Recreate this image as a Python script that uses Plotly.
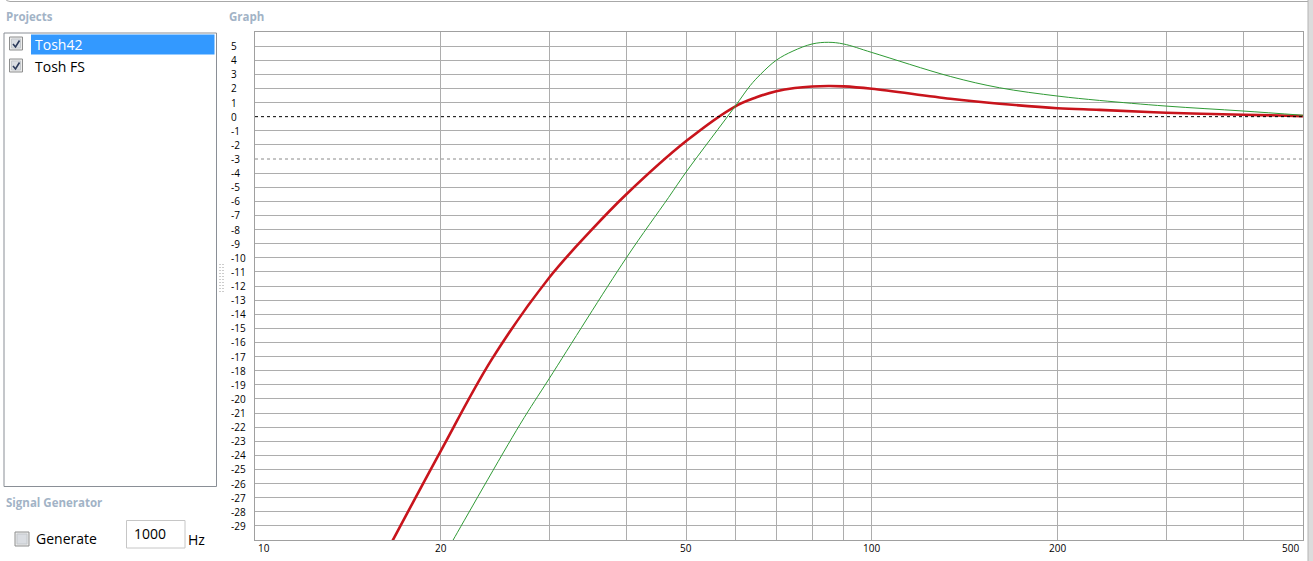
import math
import plotly.graph_objects as go

# ---------------- data ----------------
freq_tosh42 = [16.5, 20, 24.2, 30, 35, 40, 50, 60, 65, 70, 75, 80, 85, 90, 100, 134, 161, 200, 234, 300, 400, 500]
db_tosh42 = [-30.5, -23.7, -17.2, -11.4, -8.1, -5.5, -1.73, 0.72, 1.37, 1.8, 2.03, 2.14, 2.17, 2.15, 1.98, 1.27, 0.92, 0.6, 0.48, 0.28, 0.14, 0.04]

freq_toshfs = [20.7, 20.95, 26.9, 30, 40, 46.8, 50, 60, 63.5, 66, 70, 74.5, 80, 85, 90, 100, 134, 161, 200, 234, 300, 400, 500]
db_toshfs = [-30.4, -30.0, -21.8, -18.55, -10.0, -5.74, -3.92, 0.72, 2.2, 3.0, 4.0, 4.65, 5.15, 5.27, 5.15, 4.55, 2.85, 2.05, 1.46, 1.15, 0.75, 0.4, 0.1]

series_names = ["Tosh42", "Tosh FS"]
x_grid_values = [10, 20, 30, 40, 50, 60, 70, 80, 90, 100, 200, 300, 400, 500]
x_tick_labels = [10, 20, 50, 100, 200, 500]
y_tick_values = list(range(-29, 6))
ref_levels = [0, -3]
x_range = [10, 500]
y_range = [-30, 6]

# ---------------- layout helpers ----------------
W, H = 1313, 561
L, R, T, B = 255, 1303, 32, 540
PW, PH = R - L, B - T


def px(x):
    return (x - L) / PW


def py(y):
    return (B - y) / PH


UI_FONT = "Open Sans"
HEAD_COL = "#a2b3c6"

fig = go.Figure()
fig.add_trace(go.Scatter(x=freq_tosh42, y=db_tosh42, mode="lines", name=series_names[0],
                         line=dict(color="#c8141c", width=2.6, shape="spline", smoothing=1.0),
                         hoverinfo="x+y"))
fig.add_trace(go.Scatter(x=freq_toshfs, y=db_toshfs, mode="lines", name=series_names[1],
                         line=dict(color="#2f9a35", width=1, shape="spline", smoothing=1.0),
                         hoverinfo="x+y"))

shapes = []
annotations = []

# reference dashed lines
shapes.append(dict(type="line", xref="paper", yref="y", x0=0, x1=1, y0=ref_levels[0], y1=ref_levels[0],
                   line=dict(color="#000000", width=1, dash="3px,3px"), layer="above"))
shapes.append(dict(type="line", xref="paper", yref="y", x0=0, x1=1, y0=ref_levels[1], y1=ref_levels[1],
                   line=dict(color="#8a8a8a", width=1, dash="3px,3px"), layer="below"))

# y tick labels (left aligned like the original)
for v in y_tick_values:
    annotations.append(dict(xref="paper", yref="y", x=px(229), y=v, text=str(v), showarrow=False,
                            xanchor="left", yanchor="middle",
                            font=dict(family=UI_FONT, size=10, color="#000000")))

# x tick labels
for v in x_tick_labels:
    shift = 9 if v == x_range[0] else (-13 if v == x_range[1] else 0)
    annotations.append(dict(xref="x", yref="paper", x=math.log10(v), y=py(548), text=str(v),
                            showarrow=False, xanchor="center", yanchor="middle", xshift=shift,
                            font=dict(family=UI_FONT, size=10, color="#000000")))

# ---------------- surrounding UI ----------------
shapes.append(dict(type="path", xref="paper", yref="paper",
                   path=f"M {px(5)},{py(-2)} Q {px(6)},{py(1.5)} {px(10)},{py(1.5)} L {px(1313)},{py(1.5)}",
                   line=dict(color="#a8a8a8", width=1)))
shapes.append(dict(type="rect", xref="paper", yref="paper", x0=px(1308), x1=px(1313), y0=py(0), y1=py(561),
                   fillcolor="#dcdcdc", line=dict(width=0)))
shapes.append(dict(type="line", xref="paper", yref="paper", x0=px(1308), x1=px(1308), y0=py(0), y1=py(561),
                   line=dict(color="#b4b4b4", width=1)))

annotations.append(dict(xref="paper", yref="paper", x=px(4), y=py(16), text="<b>Projects</b>", showarrow=False,
                        xanchor="left", yanchor="middle", font=dict(family=UI_FONT, size=11.5, color=HEAD_COL)))
annotations.append(dict(xref="paper", yref="paper", x=px(227), y=py(16), text="<b>Graph</b>", showarrow=False,
                        xanchor="left", yanchor="middle", font=dict(family=UI_FONT, size=11.5, color=HEAD_COL)))
annotations.append(dict(xref="paper", yref="paper", x=px(4), y=py(502), text="<b>Signal Generator</b>",
                        showarrow=False, xanchor="left", yanchor="middle",
                        font=dict(family=UI_FONT, size=11.5, color=HEAD_COL)))

shapes.append(dict(type="rect", xref="paper", yref="paper", x0=px(4), x1=px(216.5), y0=py(33), y1=py(486.5),
                   fillcolor="#ffffff", line=dict(color="#8a8f96", width=1)))
shapes.append(dict(type="rect", xref="paper", yref="paper", x0=px(31), x1=px(214.5), y0=py(34.5), y1=py(54.5),
                   fillcolor="#3399ff", line=dict(width=0)))


def checkbox(x0, y0, size, checked):
    shapes.append(dict(type="rect", xref="paper", yref="paper", x0=px(x0), x1=px(x0 + size),
                       y0=py(y0), y1=py(y0 + size), fillcolor="#ececec",
                       line=dict(color="#8e8f8f", width=1)))
    shapes.append(dict(type="rect", xref="paper", yref="paper", x0=px(x0 + 2), x1=px(x0 + size - 2),
                       y0=py(y0 + 2), y1=py(y0 + size - 2), fillcolor="#dadde2",
                       line=dict(color="#c4c8cc", width=1)))
    if checked:
        shapes.append(dict(type="path", xref="paper", yref="paper",
                           path=f"M {px(x0 + 3.5)},{py(y0 + 7)} L {px(x0 + 6)},{py(y0 + 10)} "
                                f"L {px(x0 + 10)},{py(y0 + 3.5)}",
                           line=dict(color="#2c3a5a", width=1.6)))


checkbox(9.5, 37, 13, True)
checkbox(9.5, 59, 13, True)
annotations.append(dict(xref="paper", yref="paper", x=px(33), y=py(44.5), text=series_names[0], showarrow=False,
                        xanchor="left", yanchor="middle", font=dict(family=UI_FONT, size=14, color="#ffffff")))
annotations.append(dict(xref="paper", yref="paper", x=px(33), y=py(66), text=series_names[1], showarrow=False,
                        xanchor="left", yanchor="middle", font=dict(family=UI_FONT, size=14, color="#000000")))

checkbox(15, 532, 14, False)
annotations.append(dict(xref="paper", yref="paper", x=px(34), y=py(538), text="Generate", showarrow=False,
                        xanchor="left", yanchor="middle", font=dict(family=UI_FONT, size=14, color="#000000")))
shapes.append(dict(type="rect", xref="paper", yref="paper", x0=px(126.5), x1=px(185), y0=py(520.5), y1=py(548),
                   fillcolor="#ffffff", line=dict(color="#c6c6c6", width=1)))
annotations.append(dict(xref="paper", yref="paper", x=px(132), y=py(533.5), text="1000", showarrow=False,
                        xanchor="left", yanchor="middle", font=dict(family=UI_FONT, size=14, color="#000000")))
annotations.append(dict(xref="paper", yref="paper", x=px(186), y=py(539), text="Hz", showarrow=False,
                        xanchor="left", yanchor="middle", font=dict(family=UI_FONT, size=14, color="#000000")))

for gx in (220, 223):
    shapes.append(dict(type="line", xref="paper", yref="paper", x0=px(gx), x1=px(gx), y0=py(264), y1=py(292),
                       line=dict(color="#9a9a9a", width=1, dash="1px,2px")))

fig.update_layout(
    width=W, height=H,
    margin=dict(l=L, r=W - R, t=T, b=H - B, pad=0),
    paper_bgcolor="#ffffff", plot_bgcolor="#ffffff",
    showlegend=False,
    shapes=shapes, annotations=annotations,
    xaxis=dict(type="log", range=[math.log10(x_range[0]), math.log10(x_range[1])],
               tickvals=x_grid_values, showticklabels=False, ticks="",
               showgrid=True, gridcolor="#adadad", gridwidth=1,
               showline=True, linecolor="#a0a0a0", linewidth=1, mirror=True, zeroline=False),
    yaxis=dict(range=y_range, tickvals=[v for v in y_tick_values if v not in ref_levels],
               showticklabels=False, ticks="",
               showgrid=True, gridcolor="#adadad", gridwidth=1,
               showline=True, linecolor="#a0a0a0", linewidth=1, mirror=True, zeroline=False),
)

fig.write_html("out.html", config={"displayModeBar": False},
               post_script="document.body.style.margin='0px';document.body.style.overflow='hidden';")
